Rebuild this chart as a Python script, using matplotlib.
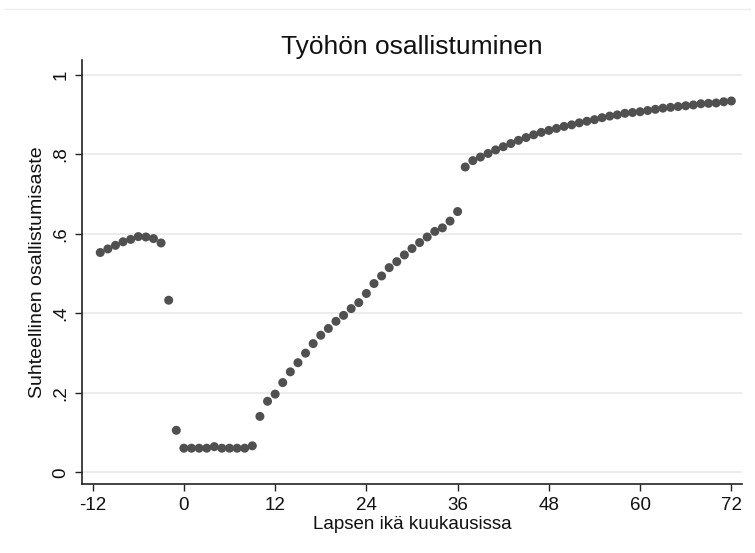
"""Työhön osallistuminen -- scatter of relative participation by child's age."""
import matplotlib
matplotlib.use("Agg")
import matplotlib.pyplot as plt
from matplotlib.lines import Line2D

MARKER = "#505050"
GRID = "#EAEAEA"
TEXT = "#111111"

# month of child's age (-11 .. 72)
months = list(range(-11, 73))

# relative participation rate
rate_pre = [0.553, 0.562, 0.571, 0.580, 0.586, 0.593, 0.592, 0.588, 0.577,
            0.433, 0.106]                                   # -11 .. -1
rate_leave = [0.061, 0.061, 0.061, 0.061, 0.065, 0.061, 0.061, 0.061,
              0.061, 0.067]                                 # 0 .. 9
rate_home = [0.141, 0.179, 0.197, 0.226, 0.253, 0.276, 0.300, 0.324, 0.345,
             0.362, 0.380, 0.395, 0.412, 0.427, 0.450, 0.475, 0.494, 0.515,
             0.530, 0.547, 0.563, 0.578, 0.592, 0.606, 0.615, 0.632,
             0.656]                                         # 10 .. 36
rate_after = [0.768, 0.784, 0.793, 0.802, 0.811, 0.819, 0.827, 0.835, 0.842,
              0.849, 0.855, 0.860, 0.865, 0.870, 0.874, 0.879, 0.883, 0.887,
              0.892, 0.896, 0.899, 0.903, 0.905, 0.907, 0.910, 0.913, 0.916,
              0.918, 0.920, 0.922, 0.924, 0.927, 0.928, 0.929, 0.932,
              0.934]                                        # 37 .. 72
rate = rate_pre + rate_leave + rate_home + rate_after

x_ticks = [-12, 0, 12, 24, 36, 48, 60, 72]
y_ticks = [0, 0.2, 0.4, 0.6, 0.8, 1.0]
y_tick_labels = ["0", ".2", ".4", ".6", ".8", "1"]

plt.rcParams["font.family"] = ["Liberation Sans", "DejaVu Sans"]

fig = plt.figure(figsize=(7.55, 5.53), dpi=100, facecolor="white")
ax = fig.add_axes([82 / 755, 1 - 484 / 553, (742 - 82) / 755, (484 - 60) / 553])

ax.scatter(months, rate, s=42, color=MARKER, edgecolors="none", zorder=3)

ax.set_xlim(-13.4, 73.4)
ax.set_ylim(-0.029, 1.037)

ax.set_yticks(y_ticks)
ax.set_yticklabels(y_tick_labels, rotation=90, va="center", fontsize=13.5, color=TEXT)
ax.set_xticks(x_ticks)
ax.set_xticklabels([str(t) for t in x_ticks], fontsize=13.5, color=TEXT)
ax.tick_params(axis="both", direction="out", length=5, width=1, color="#222222", pad=4)

ax.grid(axis="y", color=GRID, linewidth=1.3, zorder=0)
ax.set_axisbelow(True)
for s in ["top", "right"]:
    ax.spines[s].set_visible(False)
for s in ["left", "bottom"]:
    ax.spines[s].set_color("#222222")
    ax.spines[s].set_linewidth(1.2)

ax.set_title("Työhön osallistuminen", fontsize=19, color=TEXT, pad=4)
ax.set_xlabel("Lapsen ikä kuukausissa", fontsize=13.5, color=TEXT, labelpad=2)
ax.set_ylabel("Suhteellinen osallistumisaste", fontsize=14, color=TEXT, labelpad=5)

# faint outer frame line at the top of the graph region
fig.add_artist(Line2D([5 / 755, 750 / 755], [1 - 9 / 553] * 2,
                      color="#EEEEEE", linewidth=1, transform=fig.transFigure))

fig.savefig("out.png", dpi=100, facecolor="white")
